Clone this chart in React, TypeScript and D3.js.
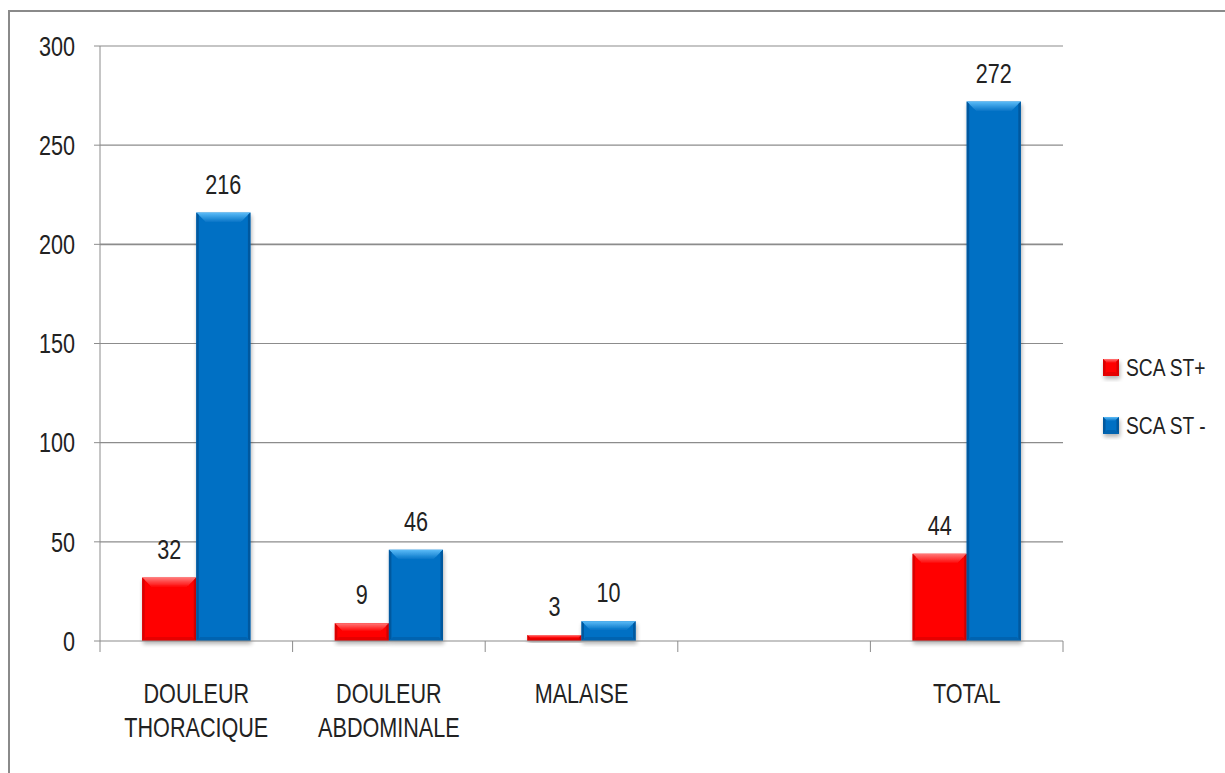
import React from "react";
import * as d3 from "d3";

const categories = ["DOULEUR\nTHORACIQUE", "DOULEUR\nABDOMINALE", "MALAISE", "", "TOTAL"];
const seriesNames = ["SCA ST+", "SCA ST -"];
const stPlus: (number | null)[] = [32, 9, 3, null, 44];
const stMinus: (number | null)[] = [216, 46, 10, null, 272];
const yTicks = [0, 50, 100, 150, 200, 250, 300];

const W = 1225;
const H = 773;
const FONT = "'Liberation Sans', Arial, sans-serif";
const SX = 0.8;

const palettes = [
  { id: "r", main: "#ff0000", top: "#ff7a7a", edge: "#d80000", bottom: "#e60000" },
  { id: "b", main: "#0070c4", top: "#5cbcf8", edge: "#00589e", bottom: "#0064b0" },
];

function NText({ x, y, anchor, size, children, dy }: { x: number; y: number; anchor: string; size: number; children: React.ReactNode; dy?: string }) {
  return (
    <g transform={`translate(${x},${y}) scale(${SX},1)`}>
      <text x={0} y={0} dy={dy} textAnchor={anchor} fontFamily={FONT} fontSize={size} fill="#222">
        {children}
      </text>
    </g>
  );
}

function Bar({ x, y, w, h, p }: { x: number; y: number; w: number; h: number; p: typeof palettes[0] }) {
  const b = Math.max(0, Math.min(10, h / 2.2, w / 4));
  const s = Math.min(2.5, b);
  const bb = Math.min(4, b);
  return (
    <g filter="url(#shadow)">
      <rect x={x} y={y} width={w} height={h} fill={p.main} />
      {b > 0.5 && (
        <>
          <polygon points={`${x},${y} ${x + w},${y} ${x + w - b},${y + b} ${x + b},${y + b}`} fill={`url(#top-${p.id})`} />
          <polygon points={`${x},${y} ${x + s},${y + s} ${x + s},${y + h - s} ${x},${y + h}`} fill={p.edge} />
          <polygon points={`${x + w},${y} ${x + w - s},${y + s} ${x + w - s},${y + h - s} ${x + w},${y + h}`} fill={p.edge} />
          <polygon points={`${x},${y + h} ${x + bb},${y + h - bb} ${x + w - bb},${y + h - bb} ${x + w},${y + h}`} fill={p.bottom} />
        </>
      )}
    </g>
  );
}

export default function App() {
  const left = 100, right = 1063, top = 46, bottom = 641;
  const x0 = d3.scaleBand<number>().domain(categories.map((_, i) => i)).range([left, right]).padding(0);
  const x1 = d3.scaleBand<number>().domain([0, 1]).range([0, x0.bandwidth()]).paddingInner(0).paddingOuter(0.78);
  const y = d3.scaleLinear().domain([0, 300]).range([bottom, top]);
  const series = [stPlus, stMinus];
  const boundaries = categories.map((_, i) => x0(i)!).concat([right]);

  return (
    <div style={{ position: "fixed", left: 0, top: 0 }}>
      <svg width={W} height={H} style={{ display: "block", background: "#fff" }}>
        <defs>
          <filter id="shadow" x="-20%" y="-20%" width="150%" height="150%">
            <feGaussianBlur in="SourceAlpha" stdDeviation="2" />
            <feOffset dx="1" dy="3" result="ob" />
            <feComponentTransfer>
              <feFuncA type="linear" slope="0.3" />
            </feComponentTransfer>
            <feMerge>
              <feMergeNode />
              <feMergeNode in="SourceGraphic" />
            </feMerge>
          </filter>
          {palettes.map((p) => (
            <linearGradient key={p.id} id={`top-${p.id}`} x1="0" y1="0" x2="0" y2="1">
              <stop offset="0" stopColor={p.top} />
              <stop offset="1" stopColor={p.main} />
            </linearGradient>
          ))}
        </defs>
        {/* outer border */}
        <path d={`M9,${H + 5} L9,11 L${W + 5},11`} fill="none" stroke="#8a8a8a" strokeWidth={2} />
        {/* gridlines */}
        {yTicks.map((t) => (
          <g key={t}>
            {t > 0 && <line x1={left} x2={right} y1={y(t)} y2={y(t)} stroke="#8c8c8c" strokeWidth={t === 200 ? 1.6 : 1.2} />}
            <line x1={left - 6} x2={left} y1={y(t)} y2={y(t)} stroke="#8c8c8c" />
            <NText x={left - 25} y={y(t)} anchor="end" size={27} dy="0.36em">
              {t}
            </NText>
          </g>
        ))}
        {/* y axis */}
        <line x1={left} x2={left} y1={top} y2={bottom} stroke="#8c8c8c" />
        {/* bars */}
        {categories.map((_, i) =>
          series.map((s, si) => {
            const v = s[i];
            if (v == null) return null;
            const bx = x0(i)! + x1(si)!;
            const bw = x1.bandwidth();
            const by = y(v);
            const bh = bottom - by;
            return (
              <g key={`${i}-${si}`}>
                <Bar x={bx} y={by} w={bw} h={bh} p={palettes[si]} />
                <NText x={bx + bw / 2} y={by - 19} anchor="middle" size={27}>
                  {v}
                </NText>
              </g>
            );
          })
        )}
        {/* x axis */}
        <line x1={left} x2={right} y1={bottom} y2={bottom} stroke="#8c8c8c" strokeWidth={1.2} />
        {boundaries.map((bx, i) => (
          <line key={i} x1={bx} x2={bx} y1={bottom} y2={bottom + 11} stroke="#8c8c8c" />
        ))}
        {categories.map((c, i) =>
          c.split("\n").map((l, li) => (
            <NText key={`${i}-${li}`} x={x0(i)! + x0.bandwidth() / 2} y={703 + li * 34} anchor="middle" size={27}>
              {l}
            </NText>
          ))
        )}
        {/* legend */}
        {seriesNames.map((n, i) => {
          const ly = 367 + i * 58;
          const p = palettes[i];
          return (
            <g key={n}>
              <Bar x={1103} y={ly - 8} w={16} h={17} p={p} />
              <NText x={1126} y={ly} anchor="start" size={24} dy="0.36em">
                {n}
              </NText>
            </g>
          );
        })}
      </svg>
    </div>
  );
}
